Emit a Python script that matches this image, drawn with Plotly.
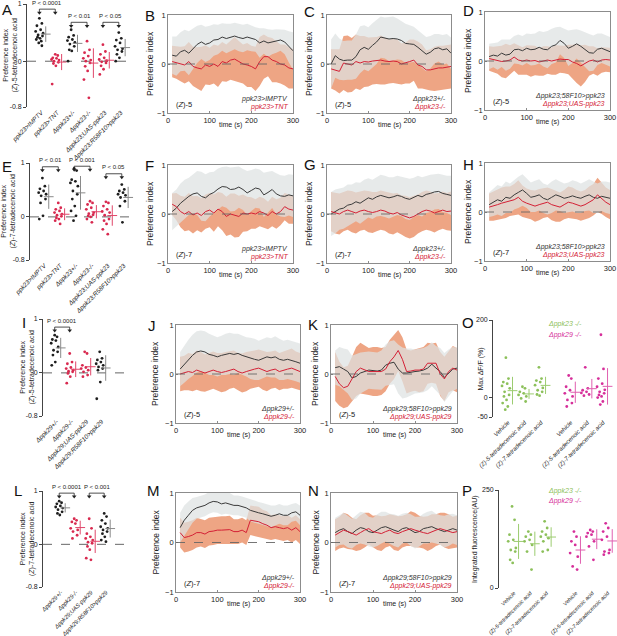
import numpy as np
import plotly.graph_objects as go

W, H = 617, 636
FONT = "Liberation Sans, Arial, sans-serif"
TXT = "#222222"
FRAME = "#8c8c8c"
BLACK_LINE = "#3a3a3a"
RED_LINE = "#d42035"
GRAY_BAND = "rgba(222,226,226,0.72)"
RED_BAND = "rgb(238,165,132)"
DOT_K, DOT_R, CROSS_K, CROSS_R = "#1e1e1e", "#d8294f", "#8a8a8a", "#e0476a"
DOT_G, DOT_M, CROSS_G, CROSS_M = "#8cc05a", "#d62f9a", "#9ccc70", "#e060b0"

# ---------------- time-course data (mean and SD, every 10 s) ----------------
TIME = list(range(10, 301, 10))

B_bk = [0.18,0.16,0.25,0.28,0.22,0.31,0.40,0.45,0.40,0.43,0.49,0.50,0.55,0.52,0.54,0.57,0.54,0.52,0.55,0.52,0.50,0.43,0.47,0.43,0.45,0.47,0.49,0.45,0.35,0.27]
B_bk_sd = [0.38,0.40,0.40,0.42,0.45,0.42,0.38,0.35,0.36,0.35,0.32,0.30,0.28,0.30,0.28,0.27,0.28,0.28,0.27,0.26,0.25,0.30,0.26,0.28,0.25,0.24,0.22,0.25,0.32,0.38]
B_rd = [0.05,0.03,0.00,-0.02,0.05,-0.05,-0.08,-0.10,-0.02,-0.05,0.00,-0.05,0.05,0.02,0.08,0.10,0.05,0.00,-0.02,-0.05,-0.10,0.05,0.15,0.15,0.08,0.05,0.00,-0.02,-0.08,-0.10]
B_rd_sd = [0.32,0.33,0.35,0.38,0.40,0.40,0.42,0.45,0.40,0.38,0.40,0.42,0.40,0.38,0.40,0.45,0.42,0.40,0.45,0.42,0.45,0.50,0.45,0.40,0.45,0.42,0.40,0.42,0.42,0.40]

C_bk = [0.00,0.17,0.10,0.07,0.08,0.08,0.15,0.29,0.34,0.30,0.38,0.45,0.55,0.53,0.51,0.52,0.51,0.48,0.42,0.41,0.40,0.34,0.27,0.20,0.24,0.31,0.33,0.29,0.31,0.22]
C_bk_sd = [0.50,0.45,0.42,0.40,0.40,0.40,0.45,0.48,0.45,0.45,0.45,0.45,0.42,0.42,0.45,0.45,0.42,0.40,0.40,0.38,0.36,0.35,0.35,0.35,0.33,0.30,0.28,0.30,0.30,0.32]
C_rd = [-0.10,-0.12,-0.15,0.02,0.00,-0.02,0.05,0.02,0.05,0.04,0.06,0.07,0.08,0.06,0.05,0.06,0.05,0.00,0.02,0.05,0.08,-0.02,-0.05,-0.12,-0.12,-0.10,-0.08,-0.08,-0.06,-0.05]
C_rd_sd = [0.40,0.42,0.45,0.55,0.58,0.55,0.55,0.55,0.52,0.50,0.48,0.48,0.50,0.48,0.45,0.45,0.45,0.42,0.42,0.45,0.42,0.48,0.45,0.40,0.42,0.45,0.45,0.45,0.45,0.45]

D_bk = [0.09,0.12,0.10,0.16,0.12,0.14,0.23,0.24,0.21,0.26,0.23,0.24,0.28,0.24,0.23,0.30,0.33,0.42,0.36,0.26,0.30,0.35,0.30,0.23,0.17,0.16,0.24,0.26,0.23,0.19]
D_bk_sd = [0.26,0.25,0.28,0.28,0.32,0.30,0.28,0.30,0.30,0.30,0.32,0.32,0.33,0.35,0.38,0.36,0.36,0.28,0.30,0.36,0.34,0.30,0.32,0.35,0.38,0.36,0.32,0.30,0.30,0.30]
D_rd = [0.05,0.03,0.02,-0.01,0.00,0.02,0.08,0.02,0.00,0.02,0.00,0.01,-0.02,0.00,0.02,0.00,0.02,0.04,0.03,0.03,-0.02,-0.05,-0.10,-0.05,0.00,0.02,-0.02,0.02,0.03,0.02]
D_rd_sd = [0.25,0.26,0.28,0.32,0.35,0.30,0.28,0.30,0.28,0.30,0.32,0.30,0.28,0.30,0.28,0.28,0.30,0.28,0.28,0.30,0.35,0.40,0.42,0.38,0.30,0.28,0.28,0.26,0.25,0.25]

F_bk = [0.05,0.12,0.22,0.30,0.36,0.41,0.43,0.36,0.33,0.40,0.44,0.51,0.56,0.55,0.50,0.51,0.55,0.50,0.43,0.48,0.53,0.51,0.39,0.44,0.50,0.41,0.37,0.36,0.39,0.37]
F_bk_sd = [0.38,0.38,0.40,0.40,0.38,0.40,0.45,0.50,0.48,0.45,0.42,0.42,0.40,0.42,0.45,0.45,0.42,0.42,0.45,0.42,0.40,0.40,0.45,0.42,0.38,0.42,0.42,0.42,0.42,0.43]
F_rd = [0.20,0.15,0.05,0.00,0.05,-0.02,0.02,-0.03,0.05,0.08,0.02,0.10,0.05,-0.05,0.00,-0.03,-0.05,0.02,0.00,0.02,0.00,0.05,0.02,-0.03,0.05,0.00,0.05,0.15,0.10,0.08]
F_rd_sd = [0.22,0.28,0.32,0.35,0.38,0.38,0.35,0.35,0.35,0.35,0.38,0.35,0.38,0.40,0.42,0.45,0.42,0.38,0.35,0.32,0.30,0.30,0.30,0.28,0.30,0.30,0.28,0.28,0.30,0.28]

G_bk = [0.00,0.05,0.10,0.12,0.18,0.20,0.25,0.22,0.28,0.33,0.30,0.35,0.38,0.36,0.33,0.35,0.38,0.36,0.32,0.30,0.34,0.38,0.35,0.40,0.42,0.45,0.46,0.42,0.40,0.38]
G_bk_sd = [0.45,0.45,0.42,0.42,0.42,0.40,0.40,0.42,0.42,0.40,0.40,0.40,0.42,0.42,0.42,0.40,0.40,0.40,0.42,0.42,0.40,0.40,0.40,0.38,0.38,0.36,0.36,0.38,0.38,0.40]
G_rd = [0.05,0.02,0.00,0.05,0.08,0.05,0.02,0.06,0.08,0.05,0.03,0.05,0.08,0.06,0.02,0.00,0.03,-0.02,-0.05,-0.08,-0.05,0.00,0.05,0.08,0.06,0.02,0.05,0.08,0.05,0.06]
G_rd_sd = [0.40,0.42,0.42,0.40,0.40,0.42,0.42,0.40,0.40,0.42,0.42,0.40,0.40,0.40,0.42,0.42,0.40,0.40,0.42,0.42,0.42,0.40,0.40,0.40,0.40,0.40,0.38,0.38,0.38,0.40]

H_bk = [0.15,0.20,0.25,0.22,0.30,0.28,0.35,0.40,0.45,0.38,0.30,0.32,0.35,0.28,0.25,0.30,0.35,0.32,0.28,0.30,0.33,0.30,0.28,0.32,0.35,0.30,0.28,0.32,0.30,0.28]
H_bk_sd = [0.25,0.28,0.30,0.30,0.32,0.30,0.30,0.32,0.32,0.30,0.30,0.32,0.32,0.30,0.30,0.32,0.32,0.30,0.30,0.30,0.32,0.32,0.30,0.30,0.32,0.32,0.30,0.30,0.32,0.32]
H_rd = [0.10,0.12,0.15,0.18,0.20,0.22,0.25,0.30,0.22,0.18,0.15,0.12,0.15,0.18,0.20,0.15,0.12,0.10,0.15,0.20,0.18,0.15,0.12,0.15,0.20,0.25,0.35,0.28,0.20,0.15]
H_rd_sd = [0.28,0.30,0.30,0.32,0.32,0.30,0.32,0.35,0.32,0.30,0.30,0.32,0.32,0.30,0.30,0.32,0.32,0.30,0.30,0.32,0.32,0.30,0.30,0.30,0.32,0.32,0.35,0.32,0.30,0.30]

J_bk = [0.10,0.20,0.30,0.38,0.45,0.47,0.45,0.40,0.38,0.35,0.38,0.40,0.42,0.40,0.42,0.38,0.35,0.32,0.30,0.28,0.32,0.35,0.33,0.35,0.30,0.28,0.30,0.28,0.25,0.22]
J_bk_sd = [0.35,0.38,0.40,0.42,0.42,0.42,0.42,0.42,0.40,0.40,0.40,0.42,0.42,0.42,0.40,0.40,0.40,0.42,0.42,0.40,0.40,0.40,0.40,0.42,0.42,0.40,0.40,0.40,0.40,0.40]
J_rd = [0.00,0.02,0.05,0.03,0.08,0.05,0.02,0.05,0.08,0.05,0.03,0.05,0.08,0.10,0.05,0.02,0.05,0.08,0.10,0.12,0.08,0.05,0.08,0.10,0.05,0.08,0.10,0.12,0.08,0.05]
J_rd_sd = [0.35,0.35,0.38,0.38,0.40,0.40,0.38,0.38,0.38,0.38,0.40,0.40,0.38,0.38,0.38,0.40,0.40,0.38,0.38,0.38,0.40,0.40,0.38,0.38,0.38,0.38,0.40,0.40,0.38,0.38]

K_bk = [0.13,0.15,0.10,0.05,-0.08,-0.05,0.02,0.05,0.08,0.07,0.06,0.08,0.18,0.22,0.24,0.10,0.02,0.02,0.04,0.05,0.06,0.08,0.12,0.20,0.12,0.05,-0.07,0.02,0.10,0.12]
K_bk_sd = [0.35,0.40,0.42,0.45,0.45,0.45,0.42,0.40,0.38,0.38,0.38,0.40,0.42,0.45,0.45,0.50,0.52,0.50,0.48,0.45,0.45,0.45,0.45,0.45,0.45,0.48,0.50,0.48,0.45,0.42]
K_rd = [-0.05,-0.20,-0.28,-0.25,-0.10,0.05,0.12,0.08,0.05,0.05,0.05,0.05,0.10,0.25,0.35,0.48,0.30,0.05,0.06,0.08,0.08,0.10,0.22,0.22,0.22,0.00,-0.10,0.05,0.12,0.08]
K_rd_sd = [0.50,0.45,0.42,0.42,0.45,0.50,0.52,0.50,0.48,0.50,0.50,0.48,0.45,0.45,0.45,0.42,0.45,0.45,0.42,0.42,0.45,0.45,0.42,0.40,0.42,0.45,0.45,0.42,0.45,0.45]

M_bk = [0.30,0.45,0.55,0.65,0.70,0.72,0.75,0.80,0.83,0.82,0.78,0.80,0.78,0.75,0.75,0.73,0.70,0.65,0.62,0.60,0.58,0.55,0.53,0.55,0.58,0.55,0.55,0.60,0.62,0.55]
M_bk_sd = [0.30,0.30,0.28,0.25,0.22,0.22,0.22,0.22,0.22,0.22,0.22,0.22,0.22,0.20,0.20,0.20,0.20,0.22,0.22,0.22,0.22,0.22,0.22,0.20,0.20,0.20,0.20,0.18,0.18,0.20]
M_rd = [0.20,0.10,0.12,0.15,0.20,0.20,0.17,0.22,0.23,0.25,0.25,0.25,0.26,0.22,0.22,0.25,0.20,0.45,0.44,0.42,0.38,0.35,0.30,0.32,0.30,0.28,0.30,0.25,0.30,0.22]
M_rd_sd = [0.30,0.30,0.30,0.30,0.30,0.28,0.28,0.28,0.28,0.28,0.28,0.28,0.28,0.25,0.25,0.25,0.25,0.30,0.30,0.30,0.28,0.28,0.25,0.25,0.25,0.25,0.25,0.25,0.25,0.25]

N_bk = [0.20,0.25,0.28,0.22,0.18,0.25,0.30,0.28,0.22,0.20,0.25,0.30,0.32,0.28,0.25,0.22,0.28,0.30,0.25,0.20,0.22,0.28,0.30,0.32,0.28,0.25,0.22,0.25,0.28,0.25]
N_bk_sd = [0.30,0.30,0.32,0.32,0.30,0.30,0.32,0.32,0.30,0.30,0.32,0.32,0.30,0.30,0.32,0.32,0.30,0.30,0.32,0.32,0.30,0.30,0.32,0.32,0.30,0.30,0.32,0.32,0.30,0.30]
N_rd = [0.15,0.20,0.25,0.22,0.18,0.15,0.20,0.25,0.28,0.22,0.20,0.18,0.22,0.25,0.20,0.18,0.22,0.25,0.28,0.25,0.22,0.20,0.18,0.22,0.25,0.28,0.25,0.22,0.20,0.22]
N_rd_sd = [0.32,0.32,0.35,0.35,0.32,0.32,0.35,0.35,0.32,0.32,0.35,0.35,0.32,0.32,0.35,0.35,0.32,0.32,0.35,0.35,0.32,0.32,0.35,0.35,0.32,0.32,0.35,0.35,0.32,0.32]

# ---------------- preference-index strip data ----------------
CAT_PPK23 = ["ppk23>IMPTV", "ppk23>TNT", "Δppk23+/-", "Δppk23-/-",
             "Δppk23;UAS-ppk23", "Δppk23;R58F10>ppk23"]
CAT_PPK29 = ["Δppk29+/-", "Δppk29-/-", "Δppk29;UAS-ppk29", "Δppk29;R58F10>ppk29"]
CAT_IMG = ["Vehicle", "(Z)-5-tetradecenoic acid", "(Z)-7-tetradecenoic acid"] * 2

A_vals = [
    [0.75,0.66,0.62,0.55,0.52,0.49,0.46,0.44,0.42,0.40,0.38,0.35,0.32,0.27],
    [0.12,0.10,0.06,0.05,0.03,0.02,0.00,-0.02,-0.04,-0.08,-0.40],
    [0.55,0.45,0.42,0.38,0.36,0.33,0.30,0.26,0.20,0.18,0.00],
    [0.35,0.20,0.15,0.09,0.05,0.02,0.00,-0.03,-0.09,-0.17,-0.32,-0.64],
    [0.29,0.17,0.12,0.06,0.03,0.01,-0.01,-0.03,-0.08,-0.14,-0.23],
    [0.50,0.40,0.37,0.32,0.26,0.22,0.20,0.17,0.12,0.06,0.00],
]
E_vals = [
    [0.72,0.57,0.52,0.48,0.45,0.42,0.39,0.33,0.26,0.02,-0.04],
    [0.26,0.17,0.14,0.11,0.08,0.05,0.03,0.01,-0.02,-0.04,-0.07,-0.13],
    [0.90,0.86,0.69,0.66,0.63,0.57,0.48,0.42,0.33,0.20,0.11,0.02,-0.07],
    [0.29,0.26,0.23,0.17,0.14,0.08,0.06,0.04,0.02,0.00,-0.04,-0.10],
    [0.28,0.26,0.20,0.14,0.10,0.08,0.03,-0.04,-0.07,-0.13,-0.23,-0.32],
    [0.60,0.51,0.48,0.45,0.42,0.40,0.36,0.29,0.20,-0.10],
]
I_vals = [
    [0.70,0.67,0.62,0.60,0.55,0.48,0.42,0.39,0.33,0.20,0.14],
    [0.36,0.20,0.17,0.10,0.08,0.05,0.03,0.02,-0.01,-0.07,-0.19],
    [0.39,0.36,0.14,0.10,0.08,0.05,0.02,-0.04,-0.07],
    [0.39,0.27,0.24,0.20,0.17,0.14,0.11,0.08,0.05,-0.17,-0.48],
]
L_vals = [
    [0.81,0.78,0.76,0.72,0.70,0.68,0.65,0.61,0.58,0.55],
    [0.48,0.45,0.42,0.39,0.30,0.27,0.24,0.17,0.11],
    [0.48,0.30,0.20,0.14,0.11,0.08,0.04,0.02,-0.04,-0.10,-0.26,-0.29],
    [0.58,0.52,0.45,0.39,0.33,0.30,0.27,0.24,0.20,0.14,0.08,0.05],
]
O_vals = [
    [103,49,40,36,30,24,15,7,3,-6,-14,-23,-31],
    [28,24,15,11,7,3,-2,-10],
    [78,49,44,40,32,25,19,15,8,5],
    [57,49,28,19,11,3,-6,-14,-23],
    [78,24,19,15,12,8,5],
    [162,74,49,36,28,20,15,11,7,3,0,-10,-18],
]
P_vals = [
    [208,174,136,123,119,102,97,93,72,64],
    [144,136,131,123,119,110,93,47],
    [170,153,144,136,131,127,119,97,93],
    [144,131,119,110,89,80,55,47],
    [148,144,140,136,131,119,106,72],
    [165,153,144,131,123,97,93,89,85],
]
A_brackets = [(0, 1, 0.91, "P &lt; 0.0001"), (2, 3, 0.68, "P &lt; 0.01"), (4, 5, 0.68, "P &lt; 0.05")]
E_brackets = [(0, 1, 0.93, "P &lt; 0.01"), (2, 3, 0.94, "P &lt; 0.001"), (4, 5, 0.80, "P &lt; 0.05")]
I_brackets = [(0, 1, 0.85, "P &lt; 0.0001")]
L_brackets = [(0, 1, 0.96, "P &lt; 0.0001"), (2, 3, 0.96, "P &lt; 0.001")]

# jitter layout pattern (horizontal placement only)
JIT = [0.0, 0.6, -0.6, 0.3, -0.9, 0.9, -0.3, 0.75, -0.45, 0.15, -0.75, 0.45, -0.15, 0.6, -0.6]

fig = go.Figure()
layout = {}
annotations = []
shapes = []
counter = [0]


def new_axes(xpx, ypx, xk, yk):
    counter[0] += 1
    n = counter[0]
    sx = "" if n == 1 else str(n)
    xk.update(domain=[xpx[0] / W, xpx[1] / W], anchor="y" + sx, automargin=False,
              showgrid=False, zeroline=False)
    yk.update(domain=[1 - ypx[1] / H, 1 - ypx[0] / H], anchor="x" + sx, automargin=False,
              showgrid=False, zeroline=False)
    layout["xaxis" + sx] = xk
    layout["yaxis" + sx] = yk
    return "x" + sx, "y" + sx


def ann(text, x, y, size=7, color=TXT, xanchor="center", yanchor="middle", angle=0, xref="paper", yref="paper"):
    if xref == "paper":
        x = x / W
    if yref == "paper":
        y = 1 - y / H
    annotations.append(dict(text=text, x=x, y=y, xref=xref, yref=yref, showarrow=False,
                            font=dict(size=size, color=color, family=FONT),
                            xanchor=xanchor, yanchor=yanchor, textangle=angle))


def time_panel(xpx, ypx, bk, bk_sd, rd, rd_sd, odor, lab_k, lab_r, title_x):
    tick = dict(size=7.5, color=TXT, family=FONT)
    xk = dict(range=[0, 300], tickvals=[0, 100, 200, 300], showline=True, mirror=True,
              linecolor=FRAME, linewidth=0.8, ticks="inside", ticklen=2, tickcolor=FRAME, tickfont=tick)
    yk = dict(range=[-1, 1], tickvals=[-1, 0, 1], showline=True, mirror=True,
              linecolor=FRAME, linewidth=0.8, ticks="inside", ticklen=2, tickcolor=FRAME, tickfont=tick)
    xa, ya = new_axes(xpx, ypx, xk, yk)
    t = np.array(TIME)
    for mean, sd, col in [(rd, rd_sd, RED_BAND), (bk, bk_sd, GRAY_BAND)]:
        m = np.array(mean)
        s = np.array(sd)
        fig.add_trace(go.Scatter(x=np.concatenate([t, t[::-1]]),
                                 y=np.concatenate([m + s, (m - s)[::-1]]),
                                 fill="toself", fillcolor=col, line=dict(width=0), mode="lines",
                                 hoverinfo="skip", showlegend=False, xaxis=xa, yaxis=ya))
    fig.add_trace(go.Scatter(x=t, y=bk, mode="lines", line=dict(color=BLACK_LINE, width=1),
                             showlegend=False, xaxis=xa, yaxis=ya))
    fig.add_trace(go.Scatter(x=t, y=rd, mode="lines", line=dict(color=RED_LINE, width=1),
                             showlegend=False, xaxis=xa, yaxis=ya))
    shapes.append(dict(type="line", xref=xa + " domain", yref=ya, x0=0, x1=1, y0=0, y1=0,
                       line=dict(color="#666666", width=0.9, dash="dash"), layer="above"))
    ann(odor, 15, -0.83, size=7.5, xanchor="left", xref=xa, yref=ya)
    ann("<i>" + lab_k + "</i>", 292, -0.72, size=7, color="#333333", xanchor="right", xref=xa, yref=ya)
    ann("<i>" + lab_r + "</i>", 292, -0.88, size=7, color=RED_LINE, xanchor="right", xref=xa, yref=ya)
    ann("Preference index", title_x, (ypx[0] + ypx[1]) / 2, size=8.5, angle=-90)
    ann("time (s)", (xpx[0] + xpx[1]) / 2, ypx[1] + 12, size=7)


def strip_panel(xpx, ypx, xrange, yrange, positions, labels, groups, dots, crosses,
                ytickvals, yticktext, dashed, title, title_x, brackets=(), label_size=6.3,
                dot_off=-0.12, cross_off=0.28):
    tick = dict(size=7, color=TXT, family=FONT)
    xk = dict(range=xrange, tickvals=positions, ticktext=["<i>" + s + "</i>" for s in labels],
              tickangle=-45, showline=False, ticks="", tickfont=dict(size=label_size, color=TXT, family=FONT))
    yk = dict(range=yrange, tickvals=ytickvals, ticktext=yticktext, showline=True, linecolor="#444444",
              linewidth=0.8, ticks="outside", ticklen=3, tickcolor="#444444", tickfont=tick)
    xa, ya = new_axes(xpx, ypx, xk, yk)
    for pos, vals, dc, cc in zip(positions, groups, dots, crosses):
        v = np.array(vals, dtype=float)
        xs = [pos + dot_off + 0.26 * JIT[k % len(JIT)] for k in range(len(v))]
        fig.add_trace(go.Scatter(x=xs, y=v, mode="markers", marker=dict(color=dc, size=2.8),
                                 showlegend=False, cliponaxis=False, xaxis=xa, yaxis=ya))
        mu, sd = v.mean(), v.std(ddof=1)
        fig.add_trace(go.Scatter(x=[pos + cross_off], y=[mu], mode="markers",
                                 marker=dict(symbol="line-ew-open", size=7, color=cc, line=dict(color=cc, width=1)),
                                 error_y=dict(type="data", array=[sd], color=cc, thickness=1, width=0),
                                 showlegend=False, cliponaxis=False, xaxis=xa, yaxis=ya))
    if dashed:
        shapes.append(dict(type="line", xref=xa + " domain", yref=ya, x0=0, x1=1, y0=0, y1=0,
                           line=dict(color="#555555", width=0.9, dash="dash"), layer="below"))
    span = yrange[1] - yrange[0]

    def to_px(xv, yv):
        return (xpx[0] + (xv - xrange[0]) / (xrange[1] - xrange[0]) * (xpx[1] - xpx[0]),
                ypx[0] + (yrange[1] - yv) / span * (ypx[1] - ypx[0]))

    for a, b, lev, txt in brackets:
        xa0 = positions[a] + dot_off
        xb0 = positions[b] + dot_off
        d = 0.035 * span
        fig.add_trace(go.Scatter(x=[xa0, xa0, xb0, xb0], y=[lev - d, lev, lev, lev - d], mode="lines",
                                 line=dict(color="#222222", width=0.8), showlegend=False,
                                 cliponaxis=False, xaxis=xa, yaxis=ya))
        fig.add_trace(go.Scatter(x=[xa0, xb0], y=[lev - d, lev - d], mode="markers",
                                 marker=dict(symbol="triangle-down", size=4, color="#222222"),
                                 showlegend=False, cliponaxis=False, xaxis=xa, yaxis=ya))
        tx, ty = to_px((xa0 + xb0) / 2, lev)
        ann(txt, tx, ty - 1.5, size=6, yanchor="bottom")
    ann(title, title_x, (ypx[0] + ypx[1]) / 2, size=7, angle=-90)
    return xa, ya


KR6 = [DOT_K, DOT_R, DOT_K, DOT_R, DOT_R, DOT_K]
KR6c = [CROSS_K, CROSS_R, CROSS_K, CROSS_R, CROSS_R, CROSS_K]
KR4 = [DOT_K, DOT_R, DOT_R, DOT_K]
KR4c = [CROSS_K, CROSS_R, CROSS_R, CROSS_K]
GM6 = [DOT_G] * 3 + [DOT_M] * 3
GM6c = [CROSS_G] * 3 + [CROSS_M] * 3
POS6 = [0, 1, 2, 3, 4, 5]
POS4 = [0, 1, 2, 3]
POS_IMG = [0, 1, 2, 3.8, 4.8, 5.75]
Z5T = "Preference index<br>(<i>Z</i>)-5-tetradecenoic acid"
Z7T = "Preference index<br>(<i>Z</i>)-7-tetradecenoic acid"
Z5 = "(<i>Z</i>)-5"
Z7 = "(<i>Z</i>)-7"

# Row 1
strip_panel((27, 135), (4, 107), [-0.9, 5.9], [-0.8, 1], POS6, CAT_PPK23, A_vals, KR6, KR6c,
            [-0.8, 0, 1], ["-0.8", "0", "1"], True, Z5T, 10, A_brackets)
time_panel((168, 293), (15, 113), B_bk, B_bk_sd, B_rd, B_rd_sd, Z5, "ppk23>IMPTV", "ppk23>TNT", 150)
time_panel((327, 451), (15, 113), C_bk, C_bk_sd, C_rd, C_rd_sd, Z5, "Δppk23+/-", "Δppk23-/-", 309)
time_panel((485, 610), (12, 110), D_bk, D_bk_sd, D_rd, D_rd_sd, Z5, "Δppk23;58F10>ppk23", "Δppk23;UAS-ppk23", 468)
# Row 2
strip_panel((30, 138), (163, 260), [-0.9, 5.9], [-0.8, 1], POS6, CAT_PPK23, E_vals, KR6, KR6c,
            [-0.8, 0, 1], ["-0.8", "0", "1"], True, Z7T, 8, E_brackets)
time_panel((168, 293), (165, 263), F_bk, F_bk_sd, F_rd, F_rd_sd, Z7, "ppk23>IMPTV", "ppk23>TNT", 150)
time_panel((327, 451), (165, 263), G_bk, G_bk_sd, G_rd, G_rd_sd, Z7, "Δppk23+/-", "Δppk23-/-", 309)
time_panel((485, 610), (163, 261), H_bk, H_bk_sd, H_rd, H_rd_sd, Z7, "Δppk23;58F10>ppk23", "Δppk23;UAS-ppk23", 468)
# Row 3
strip_panel((43, 127), (319, 416), [-0.9, 4.7], [-0.8, 1], POS4, CAT_PPK29, I_vals, KR4, KR4c,
            [-0.8, 0, 1], ["-0.8", "0", "1"], True, Z5T, 27, I_brackets)
time_panel((176, 300), (325, 423), J_bk, J_bk_sd, J_rd, J_rd_sd, Z5, "Δppk29+/-", "Δppk29-/-", 155)
time_panel((331, 457), (325, 423), K_bk, K_bk_sd, K_rd, K_rd_sd, Z5, "Δppk29;58F10>ppk29", "Δppk29;UAS-ppk29", 315)
strip_panel((493, 612), (320, 417), [-0.9, 6.3], [-50, 200], POS_IMG, CAT_IMG, O_vals, GM6, GM6c,
            [-50, 0, 200], ["-50", "0", "200"], False, "Max ΔF/F (%)", 481, label_size=6)
# Row 4
strip_panel((43, 130), (491, 587), [-1.2, 4.6], [-0.8, 1], POS4, CAT_PPK29, L_vals, KR4, KR4c,
            [-0.8, 0, 1], ["-0.8", "0", "1"], True, Z7T, 27, L_brackets, label_size=5.8)
time_panel((176, 300), (493, 592), M_bk, M_bk_sd, M_rd, M_rd_sd, Z7, "Δppk29+/-", "Δppk29-/-", 155)
time_panel((331, 457), (493, 592), N_bk, N_bk_sd, N_rd, N_rd_sd, Z7, "Δppk29;58F10>ppk29", "Δppk29;UAS-ppk29", 315)
strip_panel((499, 615), (490, 588), [-0.92, 6.2], [0, 250], POS_IMG, CAT_IMG, P_vals, GM6, GM6c,
            [0, 250], ["0", "250"], False, "Integrated fluorescence(AU)", 475, label_size=5.5)

# legends for imaging panels
ann("<i>Δppk23 -/-</i>", 584, 324, size=7, color=DOT_G, xanchor="right")
ann("<i>Δppk29 -/-</i>", 584, 335, size=7, color=DOT_M, xanchor="right")
ann("<i>Δppk23 -/-</i>", 584, 491, size=7, color=DOT_G, xanchor="right")
ann("<i>Δppk29 -/-</i>", 584, 501, size=7, color=DOT_M, xanchor="right")

# panel letters
for letter, x, y in [("A", 0, -1), ("B", 143, 5), ("C", 302, 1), ("D", 461, 0),
                     ("E", 0, 156), ("F", 143, 155), ("G", 302, 154), ("H", 461, 154),
                     ("I", 20, 312), ("J", 146, 315), ("K", 306, 314), ("O", 460, 312),
                     ("L", 12, 480), ("M", 145, 480), ("N", 306, 480), ("P", 460, 480)]:
    ann(letter, x, y, size=15, color="#111111", xanchor="left", yanchor="top")

fig.update_layout(**layout)
fig.update_layout(width=W, height=H, margin=dict(l=0, r=0, t=0, b=0), template="none",
                  paper_bgcolor="white", plot_bgcolor="rgba(0,0,0,0)", showlegend=False,
                  font=dict(family=FONT, color=TXT), annotations=annotations, shapes=shapes)
fig.write_html("out.html", config={"displayModeBar": False},
               post_script="document.body.style.margin='0';document.body.style.overflow='hidden';")
